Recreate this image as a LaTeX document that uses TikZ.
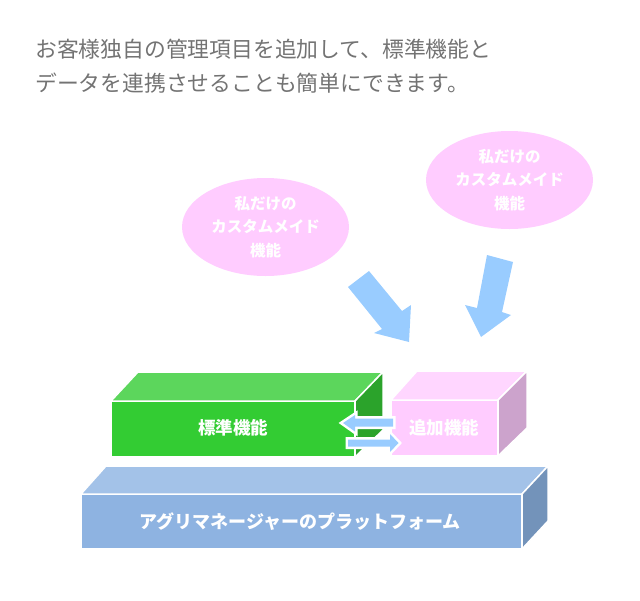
\documentclass[tikz,border=0pt]{standalone}
\usepackage{fontspec}
\setmainfont{Noto Sans CJK JP}
\usetikzlibrary{shapes.geometric}
\definecolor{titlegray}{HTML}{737373}
\definecolor{bubblepink}{HTML}{FFCCFF}
\definecolor{arrowblue}{HTML}{99CCFF}
\definecolor{greenfront}{HTML}{33CC33}
\definecolor{greentop}{HTML}{5CD65C}
\definecolor{greenside}{HTML}{2BA32B}
\definecolor{pinkfront}{HTML}{FFCCFF}
\definecolor{pinktop}{HTML}{FFD6FF}
\definecolor{pinkside}{HTML}{CCA3CC}
\definecolor{platfront}{HTML}{8EB3E1}
\definecolor{plattop}{HTML}{A3C2E8}
\definecolor{platside}{HTML}{7393BA}
\begin{document}
\begin{tikzpicture}[x=1pt, y=-1pt,
    face/.style={draw=white, line width=1.5pt, line join=round},
    boxtext/.style={text=white, inner sep=0pt, font=\bfseries\fontsize{17.5}{20}\selectfont},
    bubble/.style={ellipse, fill=bubblepink, minimum width=167pt, minimum height=98pt,
      inner sep=0pt, align=center, text=white, font=\bfseries\fontsize{15.5}{23.5}\selectfont},
    bigarrow/.style={fill=arrowblue},
    smallarrow/.style={fill=arrowblue, preaction={draw=white, line width=5pt, line join=miter}}]
  \useasboundingbox (0,0) rectangle (640,600);

  \node[anchor=west, align=left, inner sep=0pt, text=titlegray,
    font=\fontsize{21.8}{34}\selectfont] (title) at (35,66.5)
    {お客様独自の管理項目を追加して、標準機能と\\データを連携させることも簡単にできます。};

  \node[bubble] (bubbleL) at (265.5,227) {私だけの\\カスタムメイド\\機能};
  \node[bubble] (bubbleR) at (509.5,180) {私だけの\\カスタムメイド\\機能};

  \fill[bigarrow] (348,287) -- (382,329) -- (374,333) -- (409,342) -- (411,305) -- (402,311) -- (369,271) -- cycle;
  \fill[bigarrow] (487,255) -- (477,308) -- (465,305) -- (481,337) -- (511,315) -- (502,312) -- (513,262) -- cycle;

  \path[face, fill=platfront] (81,494) rectangle (522,549);
  \path[face, fill=plattop] (81,494) -- (106,466) -- (548,466) -- (522,494) -- cycle;
  \path[face, fill=platside] (522,494) -- (548,466) -- (548,521) -- (522,549) -- cycle;

  \path[face, fill=greenfront] (111,401) rectangle (355,457);
  \path[face, fill=greentop] (111,401) -- (138,372) -- (383,372) -- (355,401) -- cycle;
  \path[face, fill=greenside] (355,401) -- (383,372) -- (383,430) -- (355,457) -- cycle;

  \path[face, fill=pinkfront] (391,400) rectangle (498,456);
  \path[face, fill=pinktop] (391,400) -- (417,371) -- (527,371) -- (498,400) -- cycle;
  \path[face, fill=pinkside] (498,400) -- (527,371) -- (527,428) -- (498,456) -- cycle;

  \node[boxtext] (standard) at (233,428) {標準機能};
  \node[boxtext] (added) at (444,428) {追加機能};
  \node[boxtext, font=\bfseries\fontsize{18}{20}\selectfont] (platform) at (300,522)
    {アグリマネージャーのプラットフォーム};

  \path[smallarrow] (343,423) -- (355,415) -- (355,418.5) -- (393,418.5) -- (393,426.5) -- (355,426.5) -- (355,431.5) -- cycle;
  \path[smallarrow] (398.5,443) -- (390,434) -- (390,439.5) -- (348,439.5) -- (348,446.5) -- (390,446.5) -- (390,452) -- cycle;
\end{tikzpicture}
\end{document}
